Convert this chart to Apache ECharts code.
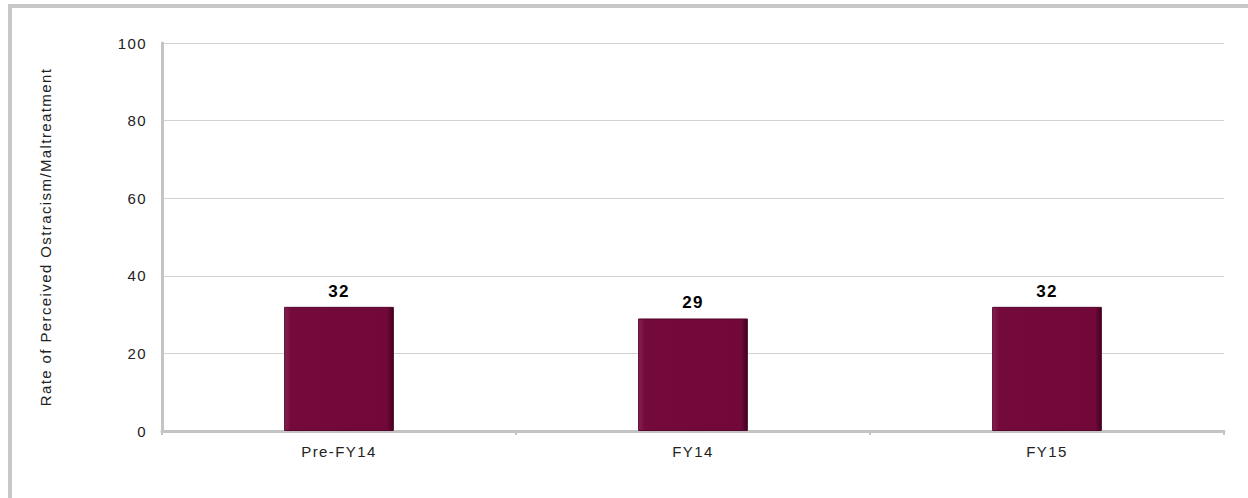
<!DOCTYPE html>
<html>
<head>
<meta charset="utf-8">
<script src="https://cdn.jsdelivr.net/npm/echarts@6/dist/echarts.min.js"></script>
<style>
    html, body { margin: 0; padding: 0; background: #fff; overflow: hidden; }
    .frame {
        position: absolute; left: 8px; top: 4px;
        width: 1300px; height: 560px;
        border: 4px solid #c8c8c8;
        box-sizing: border-box;
    }
    #chart { position: absolute; left: 0; top: 0; width: 1248px; height: 498px; }
    /* 原图字体偏宽，加一点字距 */
    #chart text { letter-spacing: 1.4px; }
</style>
</head>
<body>
<div class="frame"></div>
<div id="chart"></div>
<script>
    // 数据
    const categories = ['Pre-FY14', 'FY14', 'FY15']
    const rates = [32, 29, 32]
    const yTicks = [0, 20, 40, 60, 80, 100]

    let myChart = echarts.init(document.querySelector('#chart'), null, { renderer: 'svg' })
    let font = 'Liberation Sans, Arial'
    let option = {
        animation: false,
        grid: {
            left: 162,
            right: 24,
            top: 43,
            bottom: 67
        },
        xAxis: {
            type: 'category',
            data: categories,
            axisLine: { lineStyle: { color: '#c4c4c4', width: 3 } },
            axisTick: { show: true, length: 4, lineStyle: { color: '#c4c4c4', width: 2 } },
            axisLabel: { color: '#222', fontSize: 15, fontFamily: font, margin: 13 }
        },
        yAxis: {
            type: 'value',
            min: yTicks[0],
            max: yTicks[yTicks.length - 1],
            interval: 20,
            name: 'Rate of Perceived Ostracism/Maltreatment',
            nameLocation: 'middle',
            nameGap: 109,
            nameTextStyle: { color: '#222', fontSize: 15, fontFamily: font },
            axisLine: { show: true, lineStyle: { color: '#c4c4c4', width: 3 } },
            axisTick: { show: false },
            axisLabel: { color: '#222', fontSize: 15, fontFamily: font, margin: 15 },
            splitLine: { lineStyle: { color: '#d2d2d2', width: 1 } }
        },
        series: [{
            type: 'bar',
            data: rates,
            barWidth: '31%',
            itemStyle: {
                color: new echarts.graphic.LinearGradient(0, 0, 1, 0, [
                    { offset: 0, color: '#86204f' },
                    { offset: 0.06, color: '#74093b' },
                    { offset: 0.94, color: '#72083a' },
                    { offset: 1, color: '#3e0320' }
                ]),
                borderColor: '#55062b',
                borderWidth: 1
            },
            label: {
                show: true,
                position: 'top',
                distance: 7,
                color: '#000',
                fontSize: 17,
                fontWeight: 'bold',
                fontFamily: font
            }
        }]
    }
    myChart.setOption(option)
</script>
</body>
</html>
